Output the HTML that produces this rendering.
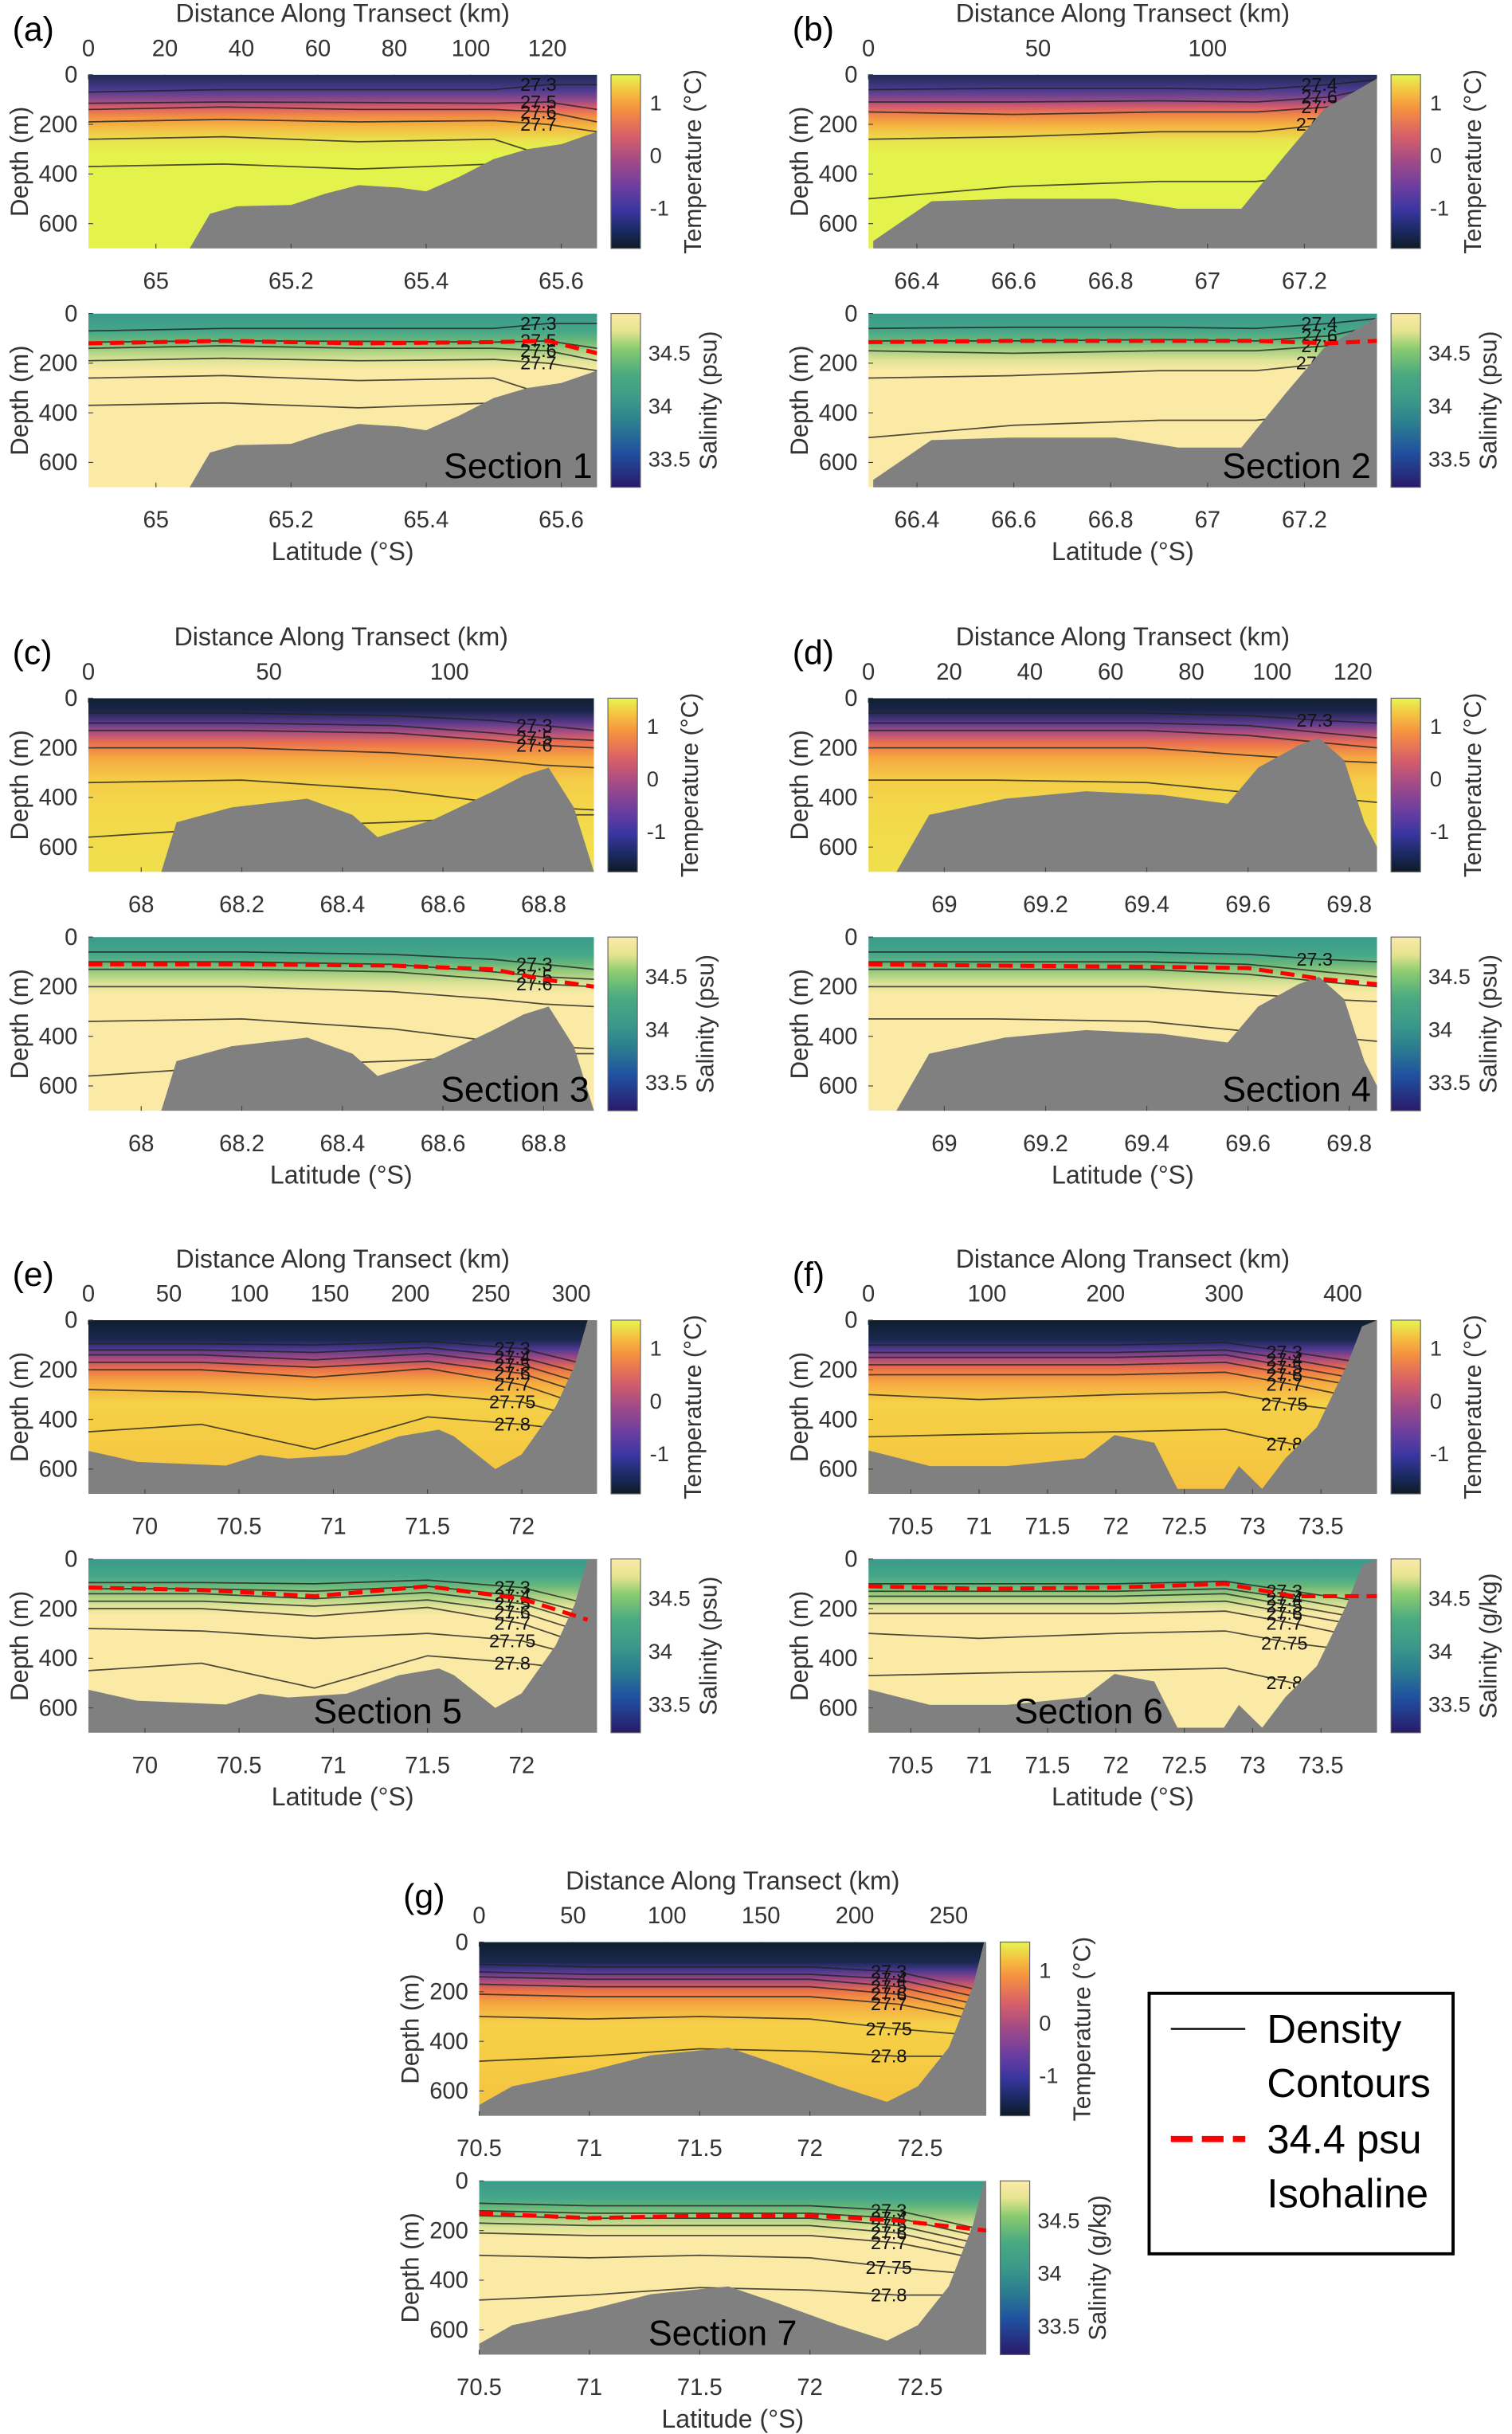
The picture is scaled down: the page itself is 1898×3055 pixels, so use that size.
<!DOCTYPE html>
<html><head><meta charset="utf-8">
<style>
html,body{margin:0;padding:0;background:#fff;}
svg{display:block;font-family:"Liberation Sans",sans-serif;}
</style></head>
<body>
<svg id="fig" width="1898" height="3055" viewBox="0 0 975 1569" xmlns="http://www.w3.org/2000/svg">
<defs id="defs"></defs>
<g id="root"></g>
<g>
<rect x="741" y="1285" width="196" height="168" fill="#fff" stroke="#000" stroke-width="2"/>
<line x1="755" y1="1308" x2="803" y2="1308" stroke="#000" stroke-width="1.2"/>
<text x="817" y="1317" font-size="26">Density</text>
<text x="817" y="1352" font-size="26">Contours</text>
<line x1="755" y1="1379" x2="803" y2="1379" stroke="#f00" stroke-width="4" stroke-dasharray="14,6"/>
<text x="817" y="1388" font-size="26">34.4 psu</text>
<text x="817" y="1423" font-size="26">Isohaline</text>
</g>
</svg>
<script>
// ---------- data ----------
const kmTicks1=[0,20,40,60,80,100,120], kmMax1=133, latTicks1=[65,65.2,65.4,65.6], latRange1=[64.9,65.653];
const bathyLat1=[65.05,65.08,65.12,65.2,65.25,65.3,65.36,65.4,65.45,65.5,65.55,65.6,65.653];
const bathyDep1=[700,560,530,525,480,445,455,470,410,340,300,280,230];
const sampLat1=[64.9,65.1,65.3,65.5,65.58,65.653];
const contours1=[[70,60,60,60,40,40],[115,110,112,115,110,140],[140,130,140,140,150,190],[190,180,190,185,200,230],[260,250,270,260,330,330],[370,360,380,360,380,380]];
const cLabels1=["27.3","27.5","27.6","27.7","",""];
const iso1=[120,110,120,115,110,160];

const kmTicks2=[0,50,100], kmMax2=150, latTicks2=[66.4,66.6,66.8,67,67.2], latRange2=[66.3,67.35];
const bathyLat2=[66.31,66.43,66.59,66.81,66.94,67.07,67.16,67.24,67.35];
const bathyDep2=[670,510,500,500,540,540,325,140,15];
const sampLat2=[66.3,66.6,66.9,67.1,67.25,67.35];
const contours2=[[60,55,55,60,40,20],[110,110,105,110,90,50],[150,160,150,150,130,80],[260,250,230,230,200,150],[500,450,430,430,400,300]];
const cLabels2=["27.4","27.6","27.7","27.75","27.8"];
const iso2=[115,110,110,110,120,110];

const kmTicks3=[0,50,100], kmMax3=140, latTicks3=[68,68.2,68.4,68.6,68.8], latRange3=[67.895,68.9];
const bathyLat3=[68.04,68.07,68.18,68.33,68.42,68.47,68.58,68.7,68.76,68.81,68.86,68.9];
const bathyDep3=[700,500,440,405,470,560,490,375,312,280,440,700];
const sampLat3=[67.895,68.2,68.5,68.7,68.8,68.9];
const contours3=[[60,60,70,90,110,130],[100,100,110,140,160,170],[130,130,140,170,190,200],[200,200,220,250,270,280],[340,330,370,420,440,450],[560,520,500,480,470,470]];
const cLabels3=["27.3","27.5","27.6","","27.75",""];
const iso3=[110,110,115,130,170,200];

const kmTicks4=[0,20,40,60,80,100,120], kmMax4=126, latTicks4=[69,69.2,69.4,69.6,69.8], latRange4=[68.85,69.855];
const bathyLat4=[68.905,68.97,69.12,69.28,69.43,69.56,69.62,69.7,69.74,69.79,69.83,69.855];
const bathyDep4=[700,470,405,375,390,425,280,190,160,250,500,600];
const sampLat4=[68.85,69.1,69.4,69.6,69.75,69.855];
const contours4=[[60,60,60,70,90,100],[100,100,100,110,140,160],[130,130,130,150,180,200],[200,200,200,230,250,260],[330,330,340,380,400,420]];
const cLabels4=["27.3","","","","27.75"];
const iso4=[110,115,120,125,170,190];

const kmTicks5=[0,50,100,150,200,250,300], kmMax5=316, latTicks5=[70,70.5,71,71.5,72], latRange5=[69.7,72.4];
const bathyLat5=[69.7,69.96,70.43,70.61,70.76,71.07,71.35,71.56,71.64,71.86,72.0,72.18,72.28,72.35,72.4];
const bathyDep5=[527,571,586,543,558,543,468,441,468,600,541,349,186,0,0];
const sampLat5=[69.7,70.3,70.9,71.5,72.0,72.35];
const contours5=[[95,95,100,85,115,180],[120,120,130,110,150,220],[140,140,160,135,180,260],[170,170,190,165,215,300],[200,200,230,195,260,350],[280,290,320,300,330,400],[450,420,520,390,420,450]];
const cLabels5=["27.3","27.4","27.5","27.6","27.7","27.75","27.8"];
const iso5=[115,125,150,110,160,245];

const kmTicks6=[0,100,200,300,400], kmMax6=429, latTicks6=[70.5,71,71.5,72,72.5,73,73.5], latRange6=[70.19,73.91];
const bathyLat6=[70.19,70.64,71.2,71.77,71.99,72.28,72.45,72.79,72.9,73.07,73.24,73.47,73.69,73.8,73.91];
const bathyDep6=[525,588,588,556,463,494,680,680,588,680,556,431,181,25,0];
const sampLat6=[70.19,71,72,72.8,73.3,73.91];
const contours6=[[100,100,100,90,130,180],[130,130,130,120,160,220],[150,150,150,140,190,250],[180,180,180,170,220,280],[220,220,220,210,260,330],[300,320,300,290,340,380],[470,460,450,440,500,500]];
const cLabels6=["27.3","27.4","27.5","27.6","27.7","27.75","27.8"];
const iso6=[110,120,115,100,150,150];

const kmTicks7=[0,50,100,150,200,250], kmMax7=270, latTicks7=[70.5,71,71.5,72,72.5], latRange7=[70.5,72.8];
const bathyLat7=[70.5,70.65,71.0,71.28,71.63,71.84,72.13,72.35,72.49,72.63,72.74,72.79,72.8];
const bathyDep7=[656,581,519,456,425,488,581,644,581,425,175,0,0];
const sampLat7=[70.5,71,71.5,72,72.4,72.8];
const contours7=[[90,100,100,100,120,200],[120,130,130,130,150,230],[140,150,150,150,180,260],[170,180,180,180,210,290],[210,220,220,220,250,320],[300,310,300,310,350,380],[480,460,430,440,460,460]];
const cLabels7=["27.3","27.4","27.5","27.6","27.7","27.75","27.8"];
const iso7=[130,150,140,140,160,200];

const depthTicks=[0,200,400,600];
const tempTicks=[1,0,-1];
const salTicks=[34.5,34,33.5];

// ---------- layout ----------
const NS="http://www.w3.org/2000/svg";
const root=document.getElementById('root'), defs=document.getElementById('defs');
function mk(tag,attrs,parent){const e=document.createElementNS(NS,tag);for(const k in attrs)e.setAttribute(k,attrs[k]);(parent||root).appendChild(e);return e;}
function txt(s,attrs,parent){const e=mk('text',attrs,parent);e.textContent=s;return e;}

const panels=[
 {id:1,letter:'(a)',x0:57,x1:385,y:48,kmT:kmTicks1,kmM:kmMax1,latT:latTicks1,latR:latRange1,bl:bathyLat1,bd:bathyDep1,sl:sampLat1,cs:contours1,cl:cLabels1,iso:iso1,tstyle:'warm',sal:'psu',sec:{x:382,anchor:'end'}},
 {id:2,letter:'(b)',x0:560,x1:888,y:48,kmT:kmTicks2,kmM:kmMax2,latT:latTicks2,latR:latRange2,bl:bathyLat2,bd:bathyDep2,sl:sampLat2,cs:contours2,cl:cLabels2,iso:iso2,tstyle:'warm',sal:'psu',sec:{x:884,anchor:'end'}},
 {id:3,letter:'(c)',x0:57,x1:383,y:450,kmT:kmTicks3,kmM:kmMax3,latT:latTicks3,latR:latRange3,bl:bathyLat3,bd:bathyDep3,sl:sampLat3,cs:contours3,cl:cLabels3,iso:iso3,tstyle:'mid',sal:'psu',sec:{x:380,anchor:'end'}},
 {id:4,letter:'(d)',x0:560,x1:888,y:450,kmT:kmTicks4,kmM:kmMax4,latT:latTicks4,latR:latRange4,bl:bathyLat4,bd:bathyDep4,sl:sampLat4,cs:contours4,cl:cLabels4,iso:iso4,tstyle:'mid',sal:'psu',sec:{x:884,anchor:'end'}},
 {id:5,letter:'(e)',x0:57,x1:385,y:851,kmT:kmTicks5,kmM:kmMax5,latT:latTicks5,latR:latRange5,bl:bathyLat5,bd:bathyDep5,sl:sampLat5,cs:contours5,cl:cLabels5,iso:iso5,tstyle:'cold',sal:'psu',sec:{x:250,anchor:'middle'}},
 {id:6,letter:'(f)',x0:560,x1:888,y:851,kmT:kmTicks6,kmM:kmMax6,latT:latTicks6,latR:latRange6,bl:bathyLat6,bd:bathyDep6,sl:sampLat6,cs:contours6,cl:cLabels6,iso:iso6,tstyle:'cold',sal:'g/kg',sec:{x:702,anchor:'middle'}},
 {id:7,letter:'(g)',x0:309,x1:636,y:1252,kmT:kmTicks7,kmM:kmMax7,latT:latTicks7,latR:latRange7,bl:bathyLat7,bd:bathyDep7,sl:sampLat7,cs:contours7,cl:cLabels7,iso:iso7,tstyle:'cold',sal:'g/kg',sec:{x:466,anchor:'middle'}}
];
const H=112, DMAX=700, GAP=154;
const tempStops={
 warm:[[0,'#1f2a50'],[60,'#4a3a90'],[100,'#8a4a8a'],[130,'#d85a6a'],[165,'#f08a45'],[210,'#f5b842'],[270,'#e8e64e'],[320,'#e4f24c'],[700,'#e4f24c']],
 mid:[[0,'#102030'],[50,'#1a2448'],[100,'#5a3a8e'],[140,'#b0507e'],[180,'#ea7050'],[240,'#f5a840'],[330,'#f5cc48'],[450,'#f3d84a'],[700,'#f0e04c']],
 cold:[[0,'#0f1f2c'],[80,'#1a2850'],[115,'#4a3890'],[155,'#a84a80'],[195,'#ea7048'],[250,'#f5a840'],[330,'#f5d048'],[480,'#f5cc44'],[700,'#f5c040']]
};
const salStops=[[0,'#3a9a8a'],[70,'#45a68a'],[110,'#6ab87a'],[150,'#a8d080'],[190,'#e0e498'],[230,'#fbeaa5'],[700,'#fbeaa5']];
const tempBar=[[0,'#e6f550'],[0.1,'#f5c040'],[0.2,'#f59040'],[0.35,'#d86068'],[0.5,'#a04a88'],[0.65,'#6a3ea0'],[0.78,'#3a36a0'],[0.9,'#1a2a60'],[1,'#0f1a24']];
const salBar=[[0,'#fbeaa8'],[0.1,'#e6e490'],[0.2,'#8ccc70'],[0.35,'#4aaa80'],[0.5,'#3a9a8a'],[0.65,'#2a7a90'],[0.8,'#2050a0'],[1,'#2a1a6a']];

function grad(id,stops,y1,y2,isDepth){
 const g=mk('linearGradient',{id:id,gradientUnits:'userSpaceOnUse',x1:0,x2:0,y1:y1,y2:y2},defs);
 stops.forEach(s=>{const off=isDepth?s[0]/DMAX:s[0];mk('stop',{offset:off,'stop-color':s[1]},g);});
}

panels.forEach(p=>{
 const W=p.x1-p.x0;
 const gx=d=>p.x0+(d-p.latR[0])/(p.latR[1]-p.latR[0])*W;
 const kx=k=>p.x0+k/p.kmM*W;
 const pg=mk('g',{});
 
 
 txt(p.letter,{x:p.x0-49,y:p.y-22,'font-size':22,fill:'#000'},pg);
 txt('Distance Along Transect (km)',{x:p.x0+W/2-0,y:p.y-34,'font-size':16.5,'text-anchor':'middle',fill:'#333'},pg);
 p.kmT.forEach(k=>{
  const t=txt(String(k),{x:kx(k),y:p.y-12,'font-size':15,'text-anchor':'middle',fill:'#333'},pg);
  
  mk('line',{x1:kx(k),x2:kx(k),y1:p.y,y2:p.y+3,stroke:'#444','stroke-width':0.6},pg);
 });
 [0,1].forEach(row=>{
  const top=p.y+row*GAP, bot=top+H;
  const dy=d=>top+d/DMAX*H;
  const cid='clip'+p.id+'_'+row;
  const cp=mk('clipPath',{id:cid},defs); mk('rect',{x:p.x0,y:top,width:W,height:H},cp);
  const gid='g'+p.id+'_'+row;
  grad(gid,row===0?tempStops[p.tstyle]:salStops,top,bot,true);
  const sub=mk('g',{'clip-path':'url(#'+cid+')'},pg);
  
  
  mk('rect',{x:p.x0,y:top,width:W,height:H,fill:'url(#'+gid+')'},sub);
  p.cs.forEach((c,ci)=>{
   const pts=c.map((d,i)=>gx(p.sl[i]).toFixed(1)+','+dy(d).toFixed(1)).join(' ');
   const pl=mk('polyline',{points:pts,fill:'none',stroke:'#222','stroke-width':0.9,'stroke-opacity':0.8},sub);
   
   
   if(p.cl[ci]){
    const li=4;
    const t=txt(p.cl[ci],{x:gx(p.sl[li])-6,y:dy(c[li])+4,'font-size':12,fill:'#111','text-anchor':'middle'},sub);
    
   }
  });
  let bp=p.bl.map((l,i)=>gx(l).toFixed(1)+','+dy(p.bd[i]).toFixed(1));
  bp.push(gx(p.latR[1])+','+(bot+5)); bp.push(gx(p.bl[0])+','+(bot+5));
  const b=mk('polygon',{points:bp.join(' '),fill:'#808080'},sub);
  
  
  if(row===1){
   const ip=p.iso.map((d,i)=>gx(p.sl[i]).toFixed(1)+','+dy(d).toFixed(1)).join(' ');
   const il=mk('polyline',{points:ip,fill:'none',stroke:'#f00','stroke-width':2.6,'stroke-dasharray':'9,5'},sub);
   
   
  }
  depthTicks.forEach(d=>{
   const t=txt(String(d),{x:p.x0-7,y:dy(d)+5,'font-size':15,'text-anchor':'end',fill:'#333'},pg);
   
   mk('line',{x1:p.x0,x2:p.x0+3,y1:dy(d),y2:dy(d),stroke:'#444','stroke-width':0.6},pg);
  });
  const yt=txt('Depth (m)',{x:0,y:0,'font-size':16,'text-anchor':'middle',fill:'#333',transform:'translate('+(p.x0-39)+','+(top+H/2)+') rotate(-90)'},pg);
  
  p.latT.forEach(l=>{
   const t=txt(String(l),{x:gx(l),y:bot+26,'font-size':15,'text-anchor':'middle',fill:'#333'},pg);
   
   mk('line',{x1:gx(l),x2:gx(l),y1:bot,y2:bot-3,stroke:'#444','stroke-width':0.6},pg);
  });
  const cbx=p.x1+9, bid='cb'+p.id+'_'+row;
  grad(bid,row===0?tempBar:salBar,top,bot,false);
  const cb=mk('rect',{x:cbx,y:top,width:19,height:H,fill:'url(#'+bid+')',stroke:'#666','stroke-width':0.6},pg);
  
  
  if(row===0){
   tempTicks.forEach(v=>{const yy=top+H*(1.53-v)/3.3; txt(String(v),{x:cbx+25,y:yy+5,'font-size':14,fill:'#333'},pg);});
  } else {
   salTicks.forEach(v=>{const yy=top+H*(34.87-v)/1.64; txt(String(v),{x:cbx+24,y:yy+5,'font-size':14,fill:'#333'},pg);});
  }
  const ttl=row===0?'Temperature (°C)':'Salinity ('+p.sal+')';
  txt(ttl,{x:0,y:0,'font-size':15.5,'text-anchor':'middle',fill:'#333',transform:'translate('+(cbx+(row===0?58:68))+','+(top+H/2)+') rotate(-90)'},pg);
  if(row===1){
   txt('Latitude (°S)',{x:p.x0+W/2,y:bot+47,'font-size':16.5,'text-anchor':'middle',fill:'#333'},pg);
   const s=txt('Section '+p.id,{x:p.sec.x,y:bot-6,'font-size':23,'text-anchor':p.sec.anchor,fill:'#000'},pg);
   
  }
 });
});
</script>
</body></html>
